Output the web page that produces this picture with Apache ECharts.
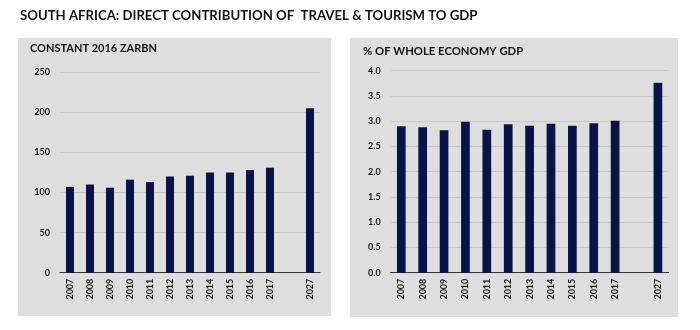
<!DOCTYPE html>
<html><head><meta charset="utf-8">
<script src="https://cdn.jsdelivr.net/npm/echarts@6/dist/echarts.min.js"></script>
<style>html,body{margin:0;padding:0;background:#fff}#c{width:700px;height:330px}</style>
</head><body><div id="c"></div>
<script>
const categories = ['2007','2008','2009','2010','2011','2012','2013','2014','2015','2016','2017','','2027'];
const zarbn = [107,110,106,116,113,120,121,125,125,128,131,null,205];
const pctGdp = [2.90,2.88,2.82,2.99,2.83,2.94,2.91,2.95,2.91,2.96,3.01,null,3.76];
const leftTicks = [0,50,100,150,200,250];
const rightTicks = [0,0.5,1,1.5,2,2.5,3,3.5,4];

const mainTitle = 'SOUTH AFRICA: DIRECT CONTRIBUTION OF  TRAVEL & TOURISM TO GDP';
const leftTitle = 'CONSTANT 2016 ZARBN';
const rightTitle = '% OF WHOLE ECONOMY GDP';

const FONT = 'Lato';
const BAR = '#0c1246';
const chart = echarts.init(document.getElementById('c'));
const catAxis = (gi) => ({
  type:'category', gridIndex:gi, data:categories,
  axisLine:{lineStyle:{color:'#333',width:1}},
  axisTick:{show:false},
  axisLabel:{rotate:90, fontFamily:FONT, fontSize:9, fontWeight:'bold', color:'#1a1a1a', margin:6, interval:0}
});
const valAxis = (gi, max, interval, fmt) => ({
  type:'value', gridIndex:gi, min:0, max:max, interval:interval,
  axisLine:{show:false}, axisTick:{show:false},
  splitLine:{lineStyle:{color:'#c9c9c9',width:1}},
  axisLabel:{fontFamily:FONT, fontSize:9, fontWeight:'bold', color:'#1a1a1a', margin:10, formatter:fmt}
});
chart.setOption({
  animation:false,
  graphic:[
    {type:'rect', shape:{x:18,y:38,width:313,height:278}, style:{fill:'#dedede'}, z:-10},
    {type:'rect', shape:{x:350,y:38,width:328,height:279}, style:{fill:'#dedede'}, z:-10}
  ],
  title:[
    {text:mainTitle, left:20, top:9, padding:0, textStyle:{fontFamily:FONT, fontWeight:'bold', fontSize:13.2, color:'#111'}},
    {text:leftTitle, left:30, top:42.5, padding:0, textStyle:{fontFamily:FONT, fontWeight:'bold', fontSize:11, color:'#111'}},
    {text:rightTitle, left:363, top:45.5, padding:0, textStyle:{fontFamily:FONT, fontWeight:'bold', fontSize:11.3, color:'#111'}}
  ],
  grid:[
    {left:60, width:260, top:72.3, height:200.4},
    {left:390.6, width:278, top:70.7, height:202}
  ],
  xAxis:[catAxis(0), catAxis(1)],
  yAxis:[
    valAxis(0, 250, 50, v=>String(v)),
    valAxis(1, 4, 0.5, v=>v.toFixed(1))
  ],
  series:[
    {type:'bar', xAxisIndex:0, yAxisIndex:0, data:zarbn, barWidth:8, itemStyle:{color:BAR}},
    {type:'bar', xAxisIndex:1, yAxisIndex:1, data:pctGdp, barWidth:8.7, itemStyle:{color:BAR}}
  ]
});
</script></body></html>
